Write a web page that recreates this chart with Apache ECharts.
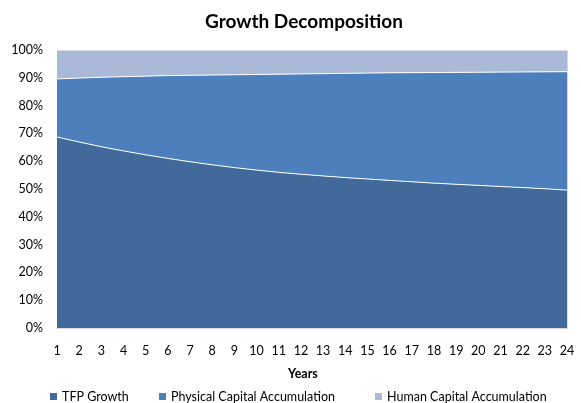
<!DOCTYPE html>
<html>
<head>
<meta charset="utf-8">
<script src="https://cdn.jsdelivr.net/npm/echarts@6/dist/echarts.min.js"></script>
<style>
  html, body { margin: 0; padding: 0; background: #fff; }
  #main { width: 581px; height: 403px; }
</style>
</head>
<body>
<div id="main"></div>
<script>
  // years on the x axis
  var years = ['1','2','3','4','5','6','7','8','9','10','11','12','13','14','15','16','17','18','19','20','21','22','23','24'];
  // shares of growth, in percent
  var tfpGrowth = [68.7,66.9,65.2,63.7,62.3,61.0,59.8,58.7,57.7,56.8,56.0,55.3,54.7,54.1,53.6,53.1,52.6,52.1,51.7,51.3,50.9,50.5,50.1,49.6];
  var physicalCapital = [20.9,23.0,25.0,26.7,28.3,29.8,31.1,32.3,33.4,34.4,35.3,36.1,36.8,37.5,38.1,38.7,39.25,39.8,40.25,40.7,41.15,41.6,42.05,42.6];
  var humanCapital = [10.4,10.1,9.8,9.6,9.4,9.2,9.1,9.0,8.9,8.8,8.7,8.6,8.5,8.4,8.3,8.2,8.15,8.1,8.05,8.0,7.95,7.9,7.85,7.8];
  var yTicks = [0,10,20,30,40,50,60,70,80,90,100];
  var seriesNames = ['TFP Growth', 'Physical Capital Accumulation', 'Human Capital Accumulation'];

  var font = 'Lato, "Open Sans", sans-serif';
  var myChart = echarts.init(document.getElementById('main'));

  function areaSeries(name, data, color) {
    return {
      name: name,
      type: 'line',
      stack: 'total',
      data: data,
      symbol: 'none',
      lineStyle: { color: '#ffffff', width: 1 },
      areaStyle: { color: color, opacity: 1 },
      itemStyle: { color: color }
    };
  }

  // one legend block per series so each sits where the reference has it
  var legendLeft = [45, 154, 370];
  var legends = seriesNames.map(function (n, i) {
    return {
      left: legendLeft[i],
      top: 385,
      itemWidth: 7,
      itemHeight: 7,
      itemGap: 6,
      icon: 'rect',
      textStyle: { fontSize: 12.5, color: '#000', fontFamily: font },
      data: [n]
    };
  });

  var option = {
    animation: false,
    textStyle: { fontFamily: font },
    title: [
      {
        text: 'Growth Decomposition',
        left: 200,
        top: 7,
        textStyle: { fontSize: 19, fontWeight: 'bold', color: '#000', fontFamily: font }
      },
      {
        text: 'Years',
        left: 283,
        top: 362,
        textStyle: { fontSize: 12.5, fontWeight: 'bold', color: '#000', fontFamily: font }
      }
    ],
    legend: legends,
    grid: { left: 57, right: 14, top: 50, bottom: 75 },
    xAxis: [
      {
        type: 'category',
        data: years,
        boundaryGap: false,
        axisLine: { show: true, lineStyle: { color: '#868686' } },
        axisTick: { show: false },
        axisLabel: { color: '#000', fontSize: 12.5, margin: 16, fontFamily: font }
      },
      {
        type: 'category',
        position: 'top',
        data: years,
        boundaryGap: false,
        axisLine: { show: true, lineStyle: { color: '#D9D9D9' } },
        axisTick: { show: false },
        axisLabel: { show: false }
      }
    ],
    yAxis: [
      {
        type: 'value',
        min: yTicks[0],
        max: yTicks[yTicks.length - 1],
        interval: 10,
        axisLine: { show: true, lineStyle: { color: '#D9D9D9' } },
        axisTick: { show: false },
        splitLine: { show: false },
        axisLabel: { formatter: '{value}%', color: '#000', fontSize: 12.5, margin: 14, fontFamily: font }
      },
      {
        type: 'value',
        position: 'right',
        min: yTicks[0],
        max: yTicks[yTicks.length - 1],
        interval: 10,
        axisLine: { show: true, lineStyle: { color: '#D9D9D9' } },
        axisTick: { show: false },
        splitLine: { show: false },
        axisLabel: { show: false }
      }
    ],
    series: [
      areaSeries(seriesNames[0], tfpGrowth, '#416A9B'),
      areaSeries(seriesNames[1], physicalCapital, '#4C7FBB'),
      areaSeries(seriesNames[2], humanCapital, '#AAB9D7')
    ]
  };

  option && myChart.setOption(option);
</script>
</body>
</html>
